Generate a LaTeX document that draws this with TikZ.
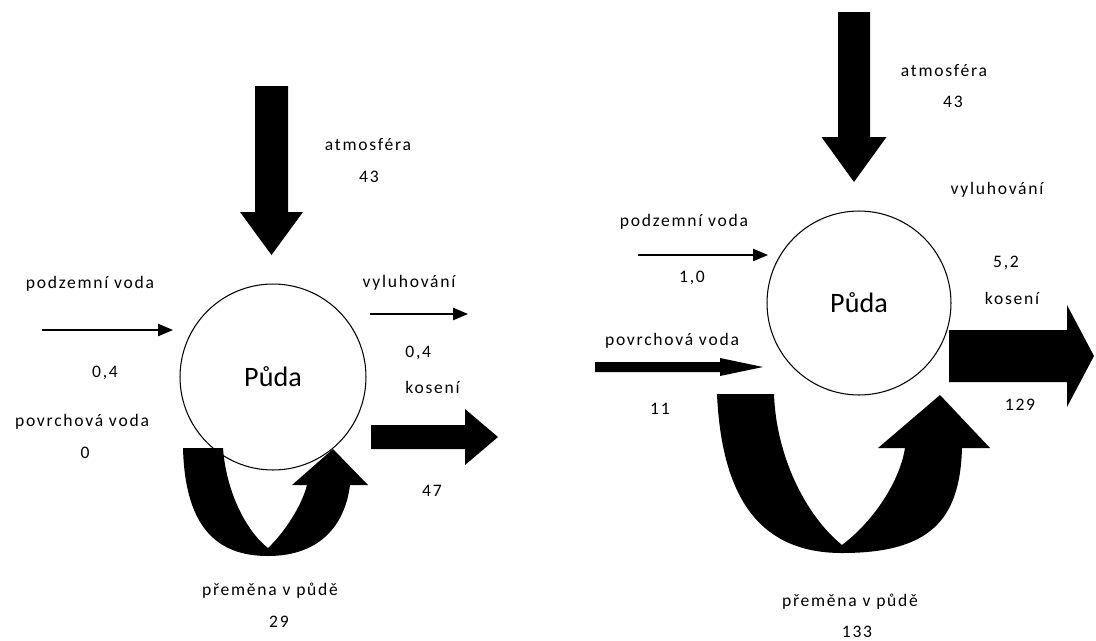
\documentclass[tikz,border=0pt]{standalone}
\usepackage{fontspec}
\setmainfont{Carlito}
\newfontfamily\lblfont{Carlito}[LetterSpace=10]
\usetikzlibrary{arrows.meta}
\tikzset{>={Triangle[length=8.5pt,width=7pt]}}
\tikzset{lbl/.style={font=\lblfont\fontsize{10}{12}\selectfont, inner sep=0pt},
  soil/.style={circle, draw, line width=0.6pt, font=\fontsize{16}{18}\selectfont}}

\begin{document}
\begin{tikzpicture}[x=0.02cm,y=-0.02cm]
          \useasboundingbox (0,0) rectangle (1096,640);
          % left: Puda with small inflow
          \node[soil, minimum size=3.72cm] (pudaL) at (273,377) {Půda};
          \coordinate (atmL) at (271.5,86);
          \coordinate (kosL) at (371,437);
          \coordinate (podL1) at (42,330);
          \coordinate (podL2) at (173,330);
          \coordinate (vylL1) at (370,314);
          \coordinate (vylL2) at (468,314);
          \fill (atmL) ++(-16.5,0) -- ++(33,0) -- ++(0,126) -- ++(15,0) -- ++(-31.5,43) -- ++(-31.5,-43) -- ++(15,0) -- cycle;
          \fill (kosL) ++(0,-12) -- ++(94,0) -- ++(0,-16) -- ++(33,28) -- ++(-33,28) -- ++(0,-16) -- ++(-94,0) -- cycle;
          \fill (183,448) -- (223,448) .. controls (226,490) and (245,530) .. (268,548)
            .. controls (285,532) and (302,505) .. (307,485) -- (292,485) -- (333,449) -- (368,485) -- (350,485)
            .. controls (345,525) and (320,556) .. (268,556) .. controls (215,556) and (185,525) .. (183,448) -- cycle;
          \begin{scope}[->, line width=0.7pt]
            \draw (podL1) -- (podL2);
            \draw (vylL1) -- (vylL2);
          \end{scope}
          \node[lbl] (atmLt) at (368,145) {atmosféra};
          \node[lbl] (atmLv) at (369,177) {43};
          \node[lbl] (podLt) at (90,284) {podzemní voda};
          \node[lbl] (podLv) at (105,373) {0,4};
          \node[lbl] (povLt) at (82,422) {povrchová voda};
          \node[lbl] (povLv) at (85,453) {0};
          \node[lbl] (vylLt) at (409,283) {vyluhování};
          \node[lbl, anchor=west] (vylLv) at (405,353) {0,4};
          \node[lbl, anchor=west] (kosLt) at (405,387) {kosení};
          \node[lbl] (kosLv) at (432,491) {47};
          \node[lbl] (preLt) at (270,591) {přeměna v půdě};
          \node[lbl] (preLv) at (279,622) {29};
          % right: Puda with large inflow
          \node[soil, minimum size=3.68cm] (pudaR) at (859,303) {Půda};
          \coordinate (atmR) at (854,12);
          \coordinate (kosR) at (949,356);
          \coordinate (povR) at (595,367);
          \coordinate (podR1) at (638,255);
          \coordinate (podR2) at (768,255);
          \fill (atmR) ++(-16,0) -- ++(32,0) -- ++(0,125) -- ++(16.5,0) -- ++(-32.5,45) -- ++(-32.5,-45) -- ++(16.5,0) -- cycle;
          \fill (kosR) ++(0,-26) -- ++(118,0) -- ++(0,-25) -- ++(27,51) -- ++(-27,51) -- ++(0,-25) -- ++(-118,0) -- cycle;
          \fill (povR) ++(0,-5) -- ++(125,0) -- ++(0,-4) -- ++(43,9) -- ++(-43,9) -- ++(0,-4) -- ++(-125,0) -- cycle;
          \fill (717,394) -- (774,394) .. controls (776,455) and (805,515) .. (842,545)
            .. controls (875,520) and (900,480) .. (905,448) -- (878,448) -- (940,395) -- (990,448) -- (962,448)
            .. controls (960,520) and (930,553) .. (842,553) .. controls (765,553) and (722,505) .. (717,394) -- cycle;
          \draw[->, line width=0.7pt] (podR1) -- (podR2);
          \node[lbl] (atmRt) at (944,71) {atmosféra};
          \node[lbl] (atmRv) at (953,102) {43};
          \node[lbl] (vylRt) at (997,190) {vyluhování};
          \node[lbl] (podRt) at (684,222) {podzemní voda};
          \node[lbl] (podRv) at (692,278) {1,0};
          \node[lbl] (povRt) at (672,341) {povrchová voda};
          \node[lbl] (povRv) at (660,409) {11};
          \node[lbl] (kosRv0) at (1006,263) {5,2};
          \node[lbl] (kosRt) at (1012,298) {kosení};
          \node[lbl] (kosRv) at (1020,405) {129};
          \node[lbl] (preRt) at (850,602) {přeměna v půdě};
          \node[lbl] (preRv) at (857,632) {133};
        \end{tikzpicture}
\end{document}
